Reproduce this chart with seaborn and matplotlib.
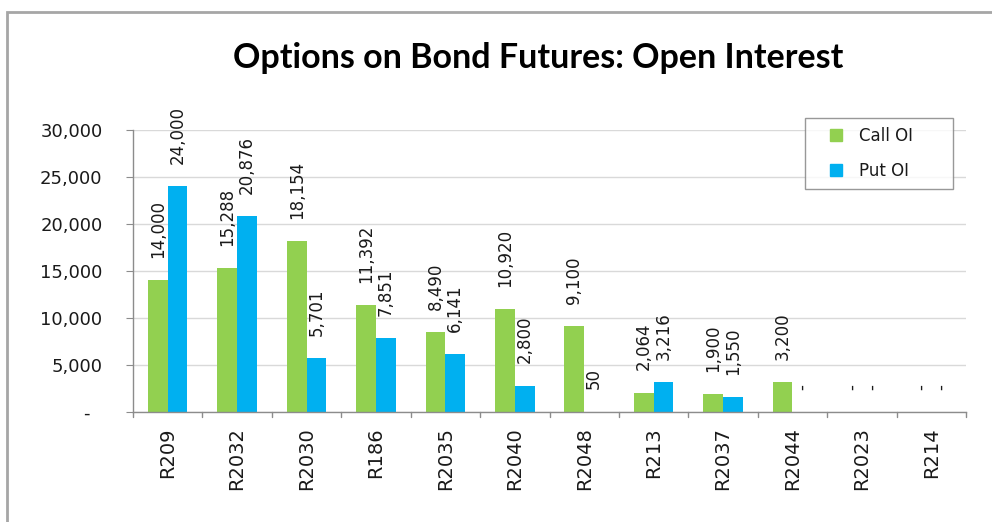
import matplotlib
matplotlib.use("Agg")
import matplotlib.pyplot as plt
import matplotlib.patches as mpatches
from matplotlib.lines import Line2D
import seaborn as sns
import pandas as pd
from matplotlib.ticker import FuncFormatter, MultipleLocator

# Open interest per bond future
bonds = ["R209", "R2032", "R2030", "R186", "R2035", "R2040",
         "R2048", "R213", "R2037", "R2044", "R2023", "R214"]
call_oi = [14000, 15288, 18154, 11392, 8490, 10920, 9100, 2064, 1900, 3200, 0, 0]
put_oi = [24000, 20876, 5701, 7851, 6141, 2800, 50, 3216, 1550, 0, 0, 0]
series_names = ["Call OI", "Put OI"]
series_colors = ["#92D050", "#00B0F0"]

df = pd.DataFrame({
    "bond": bonds * 2,
    "series": [series_names[0]] * len(bonds) + [series_names[1]] * len(bonds),
    "oi": call_oi + put_oi,
})

sns.set_style("white")
plt.rcParams["font.family"] = ["DejaVu Sans"]

fig = plt.figure(figsize=(9.92, 5.22), dpi=100)
ax = fig.add_axes([133 / 992, 1 - 412 / 522, (966 - 133) / 992, (412 - 130) / 522])

sns.barplot(data=df, x="bond", y="oi", hue="series", order=bonds,
            hue_order=series_names, palette=series_colors, width=0.57,
            saturation=1, ax=ax, edgecolor="none", linewidth=0, legend=False)

ax.set_ylim(0, 30000)
ax.set_xlim(-0.5, len(bonds) - 0.5)
ax.yaxis.set_major_locator(MultipleLocator(5000))
# accounting-style numbers: zero shown as a dash with trailing padding
ax.yaxis.set_major_formatter(FuncFormatter(lambda v, _: "-\u2007" if v == 0 else f"{v:,.0f}"))
ax.grid(axis="y", color="#d9d9d9", linewidth=1)
ax.set_axisbelow(True)

for s in ["top", "right"]:
    ax.spines[s].set_visible(False)
for s in ["left", "bottom"]:
    ax.spines[s].set_color("#8c8c8c")
    ax.spines[s].set_linewidth(1)

ax.set_xlabel("")
ax.set_ylabel("")
ax.tick_params(axis="y", labelsize=13, length=5, color="#8c8c8c", direction="out",
               left=True, pad=17, labelcolor="#1a1a1a")
ax.set_xticks(range(len(bonds)))
ax.set_xticklabels(bonds, rotation=90, fontsize=14, color="#1a1a1a")
ax.tick_params(axis="x", length=0, pad=11)
# category separators on the category axis
for b in range(len(bonds) + 1):
    ax.plot([b - 0.5, b - 0.5], [0, -0.018], transform=ax.get_xaxis_transform(),
            color="#8c8c8c", linewidth=1, clip_on=False)

# value labels above every bar
for cont, vals in zip(ax.containers, [call_oi, put_oi]):
    labels = ["-" if v == 0 else f"{v:,}" for v in vals]
    ax.bar_label(cont, labels=labels, rotation=90, padding=16, fontsize=12,
                 color="#1a1a1a")

handles = [Line2D([], [], linestyle="none", marker="s", markersize=8,
                  markerfacecolor=c, markeredgecolor=c, label=n)
           for c, n in zip(series_colors, series_names)]
leg = ax.legend(handles=handles, loc="upper left", mode="expand",
                bbox_to_anchor=(805 / 992, 1 - 187 / 522, 148 / 992, 69 / 522),
                bbox_transform=fig.transFigure, frameon=True, fancybox=False,
                fontsize=12, handlelength=2.6, borderpad=0.55,
                labelspacing=1.0, handletextpad=0.1, borderaxespad=0)
leg.get_frame().set_edgecolor("#7f7f7f")
leg.get_frame().set_linewidth(1)
for t in leg.get_texts():
    t.set_color("#1a1a1a")

fig.text(538 / 992, 1 - 58 / 522, "Options on Bond Futures: Open Interest",
         ha="center", va="center", fontsize=24.5, fontweight="bold", family="Lato",
         color="black")

# chart frame
fig.patches.append(mpatches.Rectangle((6.5 / 992, -0.05), 1.1, 1 - 11.5 / 522 + 0.05,
                                      transform=fig.transFigure, fill=False,
                                      edgecolor="#a6a6a6", linewidth=2))

fig.savefig("out.png", dpi=100)
